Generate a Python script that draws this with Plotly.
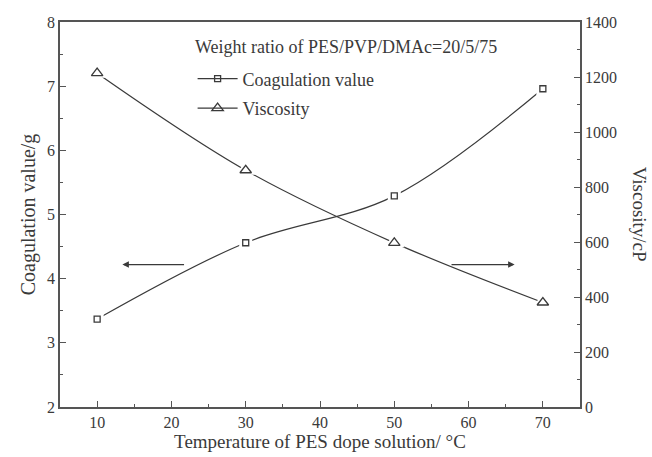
import plotly.graph_objects as go

temperature = [10, 30, 50, 70]
coagulation_value = [3.37, 4.56, 5.29, 6.96]
viscosity = [1214, 861, 597, 380]

x_ticks = [10, 20, 30, 40, 50, 60, 70]
y_ticks = [2, 3, 4, 5, 6, 7, 8]
y2_ticks = [0, 200, 400, 600, 800, 1000, 1200, 1400]

INK = "#3a3a3a"
AX = "#555555"
FONT = "Liberation Serif"

fig = go.Figure()

# lines
fig.add_trace(go.Scatter(x=temperature, y=coagulation_value, mode="lines",
                         line=dict(color=INK, width=1.2, shape="spline"),
                         showlegend=False, hoverinfo="skip"))
fig.add_trace(go.Scatter(x=temperature, y=viscosity, mode="lines", yaxis="y2",
                         line=dict(color=INK, width=1.2, shape="spline"),
                         showlegend=False, hoverinfo="skip"))
# white halos to create gaps around markers
fig.add_trace(go.Scatter(x=temperature, y=coagulation_value, mode="markers",
                         marker=dict(symbol="square", size=13, color="white"),
                         showlegend=False, hoverinfo="skip"))
fig.add_trace(go.Scatter(x=temperature, y=viscosity, mode="markers", yaxis="y2",
                         marker=dict(symbol="triangle-up", size=18, color="white"),
                         showlegend=False, hoverinfo="skip"))
# markers
fig.add_trace(go.Scatter(x=temperature, y=coagulation_value, mode="markers",
                         marker=dict(symbol="square-open", size=6, color=INK,
                                     line=dict(width=1.3, color=INK)),
                         showlegend=False))
fig.add_trace(go.Scatter(x=temperature, y=viscosity, mode="markers", yaxis="y2",
                         marker=dict(symbol="triangle-up-open", size=10, color=INK,
                                     line=dict(width=1.3, color=INK)),
                         showlegend=False))
# legend entries
fig.add_trace(go.Scatter(x=[None], y=[None], mode="lines+markers", name="Coagulation value",
                         legendgroup="a",
                         line=dict(color=INK, width=1.2),
                         marker=dict(symbol="square-open", size=6, color=INK,
                                     line=dict(width=1.3, color=INK))))
fig.add_trace(go.Scatter(x=[None], y=[None], mode="lines+markers", name="Viscosity",
                         legendgroup="b", yaxis="y2",
                         line=dict(color=INK, width=1.2),
                         marker=dict(symbol="triangle-up-open", size=10, color=INK,
                                     line=dict(width=1.3, color=INK))))

axis_common = dict(showgrid=False, zeroline=False, showline=True, linecolor=AX,
                   linewidth=1.5, ticks="inside", ticklen=6, tickcolor=AX,
                   tickfont=dict(family=FONT, size=16, color=INK))

fig.update_layout(
    width=652, height=457,
    margin=dict(l=60, r=72, t=22, b=50),
    paper_bgcolor="white", plot_bgcolor="white",
    font=dict(family=FONT, color=INK),
    xaxis=dict(range=[5, 75], tickvals=x_ticks, mirror=True,
               minor=dict(dtick=5, tick0=5, ticks="inside", ticklen=3, tickcolor=AX),
               title=dict(text="Temperature of PES dope solution/ °C",
                          font=dict(family=FONT, size=19, color=INK), standoff=2),
               **axis_common),
    yaxis=dict(range=[2, 8], tickvals=y_ticks,
               minor=dict(dtick=0.5, ticks="inside", ticklen=3, tickcolor=AX),
               title=dict(text="Coagulation value/g",
                          font=dict(family=FONT, size=20, color=INK), standoff=6),
               **axis_common),
    yaxis2=dict(range=[0, 1400], tickvals=y2_ticks, overlaying="y", side="right",
                minor=dict(dtick=100, ticks="inside", ticklen=3, tickcolor=AX),
                **axis_common),
    legend=dict(x=0.255, y=0.9, xanchor="left", yanchor="top",
                bgcolor="rgba(0,0,0,0)", font=dict(family=FONT, size=18, color=INK),
                tracegroupgap=3, itemwidth=40),
    showlegend=True,
)

fig.add_annotation(text="Weight ratio of PES/PVP/DMAc=20/5/75", xref="paper", yref="paper",
                   x=0.256, y=0.935, xanchor="left", yanchor="middle", showarrow=False,
                   font=dict(family=FONT, size=18, color=INK))
fig.add_annotation(text="Viscosity/cP", xref="paper", yref="paper", x=1.115, y=0.5,
                   xanchor="center", yanchor="middle", showarrow=False, textangle=90,
                   font=dict(family=FONT, size=19, color=INK))
# direction arrows
fig.add_annotation(x=13.4, y=4.22, ax=21.9, ay=4.22, xref="x", yref="y", axref="x", ayref="y",
                   text="", showarrow=True, arrowhead=2, arrowsize=1, arrowwidth=1.3,
                   arrowcolor=INK)
fig.add_annotation(x=66.2, y=4.22, ax=57.5, ay=4.22, xref="x", yref="y", axref="x", ayref="y",
                   text="", showarrow=True, arrowhead=2, arrowsize=1, arrowwidth=1.3,
                   arrowcolor=INK)

fig.write_html("out.html")
